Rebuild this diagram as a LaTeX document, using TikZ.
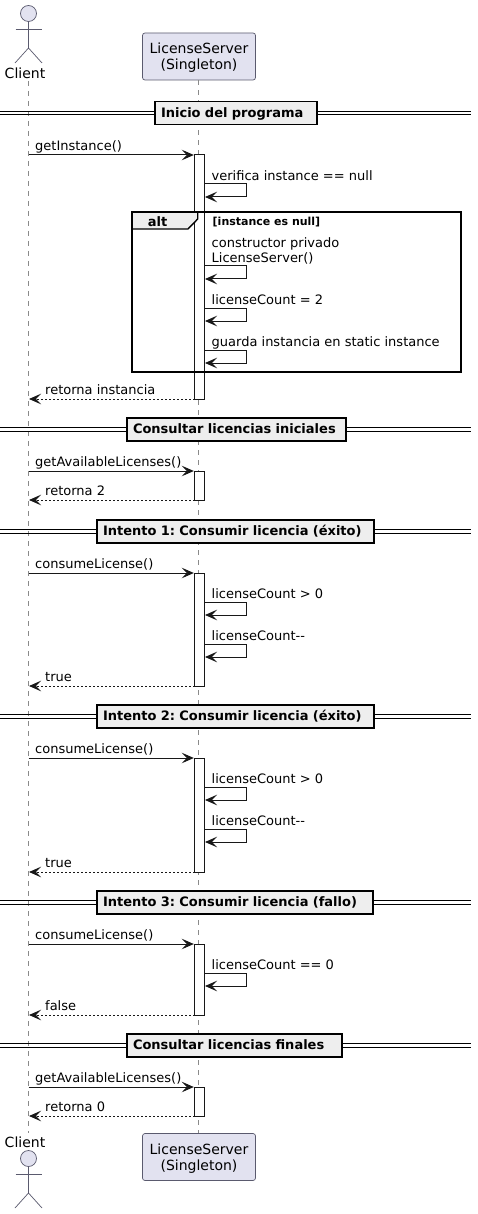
\documentclass[tikz,border=0pt]{standalone}
\usepackage{fontspec}
\setmainfont{DejaVu Sans}
\usetikzlibrary{arrows.meta}
\definecolor{partfill}{HTML}{E2E2F0}
\definecolor{partline}{HTML}{5A5A6E}
\definecolor{lifeln}{HTML}{8A8A8A}
\definecolor{divfill}{HTML}{EEEEEE}
\definecolor{inkc}{HTML}{181818}
\tikzset{
  x=1pt,y=-1pt,
  partbox/.style={draw=partline,fill=partfill,rounded corners=2.5pt,line width=.7pt,minimum width=113pt,minimum height=47pt,inner sep=0pt,align=center,font=\fontsize{14}{16}\selectfont,text=black},
  actorline/.style={draw=partline,line width=.7pt},
  lifeline/.style={draw=lifeln,line width=.7pt,dash pattern=on 5pt off 5pt},
  activ/.style={draw=inkc,fill=white,line width=1pt,minimum width=10pt,inner sep=0pt},
  call/.style={draw=inkc,line width=1pt,-{Stealth[length=12pt,width=10.5pt,inset=5pt,fill=inkc]}},
  ret/.style={draw=inkc,line width=1pt,dash pattern=on 2pt off 2pt,-{Stealth[length=12pt,width=10.5pt,inset=5pt,fill=inkc]}},
  msgtext/.style={anchor=base west,inner sep=0pt,font=\fontsize{13}{15.2}\selectfont,text=black,align=left},
  divbox/.style={draw=black,fill=divfill,line width=1.7pt,inner xsep=6pt,inner ysep=0pt,minimum height=23pt,align=left,text height=11.6pt,text depth=3pt,font=\frenchspacing\bfseries\fontsize{13}{15}\selectfont},
  divline/.style={draw=black,line width=1pt},
  altframe/.style={draw=black,line width=2pt},
  alttab/.style={draw=black,line width=1.4pt},
}
% call from client to server: name, y, label
\newcommand{\callmsg}[3]{%
  \coordinate (#1a) at (28.5,#2);
  \coordinate (#1b) at (193.8,#2);
  \draw[call] (#1a) -- (#1b);
  \node[msgtext] (#1t) at (35,#2-4.5) {#3};
}
\newcommand{\retmsg}[3]{%
  \coordinate (#1a) at (194.5,#2);
  \coordinate (#1b) at (29,#2);
  \draw[ret] (#1a) -- (#1b);
  \node[msgtext] (#1t) at (45,#2-4.5) {#3};
}
\newcommand{\selfmsg}[3]{%
  \coordinate (#1a) at (204.5,#2);
  \coordinate (#1c) at (246.5,#2);
  \coordinate (#1d) at (246.5,#2+13);
  \coordinate (#1b) at (205,#2+13);
  \draw[call] (#1a) -- (#1c) -- (#1d) -- (#1b);
  \node[msgtext] (#1t) at (211.5,#2-3.7) {#3};
}
\newcommand{\divider}[5]{% name, x1, x2, ytop, text
  \coordinate (#1l) at (0,#4+11.5);
  \coordinate (#1r) at (471,#4+11.5);
  \draw[divline] ([yshift=1.6pt]#1l) -- ([yshift=1.6pt]#1r);
  \draw[divline] ([yshift=-1.6pt]#1l) -- ([yshift=-1.6pt]#1r);
  \node[divbox,text width={#3-#2-12}] (#1) at ({(#2+#3)/2},#4+11.5) {#5};
}
\newcommand{\activation}[3]{% name, y1, y2
  \node[activ,minimum height={#3-#2}] (#1) at (199.5,{(#2+#3)/2}) {};
}
\newcommand{\actorfig}[2]{% name, head centre y
  \draw[actorline,fill=partfill] (28.5,#2) circle[radius=8];
  \coordinate (#1neck) at (28.5,#2+8);
  \coordinate (#1hip) at (28.5,#2+34.5);
  \coordinate (#1la) at (15.5,#2+15.5);
  \coordinate (#1ra) at (41.5,#2+15.5);
  \coordinate (#1ll) at (15,#2+49.5);
  \coordinate (#1rl) at (42,#2+49.5);
  \draw[actorline] (#1neck) -- (#1hip);
  \draw[actorline] (#1la) -- (#1ra);
  \draw[actorline] (#1ll) -- (#1hip) -- (#1rl);
}
\newcommand{\partlabel}{\rule{0pt}{13.5pt}LicenseServer\\(Singleton)}
\begin{document}
\begin{tikzpicture}
\useasboundingbox (0,0) rectangle (477,1214);
\fill[white] (0,0) rectangle (477,1214);
% participants
\node[partbox] (srvT) at (199,56.5) {\partlabel};
\node[partbox] (srvB) at (199,1157) {\partlabel};
\actorfig{actT}{13.5}
\actorfig{actB}{1158.5}
\node[inner sep=0pt,font=\fontsize{14}{16}\selectfont] (cliT) at (25,73) {Client};
\node[inner sep=0pt,font=\fontsize{14}{16}\selectfont] (cliB) at (25,1142) {Client};
\draw[lifeline] (28.5,81) -- (28.5,1133);
\draw[lifeline] ([xshift=-.5pt]srvT.south) -- ([xshift=-.5pt]srvB.north);
% activations
\activation{a1}{155}{399}
\activation{a2}{471}{500}
\activation{a3}{573}{686}
\activation{a4}{758}{872}
\activation{a5}{944}{1015}
\activation{a6}{1087}{1116}
% dividers
\divider{d1}{155}{317}{101.5}{Inicio del programa}
\divider{d2}{127}{346}{418}{Consultar licencias iniciales}
\divider{d3}{97}{374}{520}{Intento 1: Consumir licencia (éxito)}
\divider{d4}{97}{374}{705}{Intento 2: Consumir licencia (éxito)}
\divider{d5}{97}{373}{891}{Intento 3: Consumir licencia (fallo)}
\divider{d6}{127}{342}{1034}{Consultar licencias finales}
% alt frame
\fill[divfill] (132,212.5) -- (197.7,212.5) -- (197.7,219) -- (188,229) -- (132,229) -- cycle;
\draw[alttab] (132,229) -- (188,229) -- (197.7,219) -- (197.7,212.5);
\draw[altframe] (132,212.5) rectangle (461.2,371.7);
\node[inner sep=0pt,font=\bfseries\fontsize{13}{15}\selectfont] (altL) at (157.5,222) {alt};
\node[anchor=base west,inner sep=0pt,font=\bfseries\fontsize{11}{13}\selectfont] (altG) at (212.5,226) {[instance es null]};
% messages
\callmsg{m1}{155}{getInstance()}
\selfmsg{s1}{184}{verifica instance == null}
\selfmsg{s2}{266}{constructor privado\\LicenseServer()}
\selfmsg{s3}{308}{licenseCount = 2}
\selfmsg{s4}{350}{guarda instancia en static instance}
\retmsg{r1}{399}{retorna instancia}
\callmsg{m2}{471}{getAvailableLicenses()}
\retmsg{r2}{500}{retorna 2}
\callmsg{m3}{573}{consumeLicense()}
\selfmsg{s5}{602}{licenseCount > 0}
\selfmsg{s6}{644}{licenseCount-{}-}
\retmsg{r3}{686}{true}
\callmsg{m4}{758}{consumeLicense()}
\selfmsg{s7}{787}{licenseCount > 0}
\selfmsg{s8}{829}{licenseCount-{}-}
\retmsg{r4}{872}{true}
\callmsg{m5}{944}{consumeLicense()}
\selfmsg{s9}{973}{licenseCount == 0}
\retmsg{r5}{1015}{false}
\callmsg{m6}{1087}{getAvailableLicenses()}
\retmsg{r6}{1116}{retorna 0}
\end{tikzpicture}
\end{document}
